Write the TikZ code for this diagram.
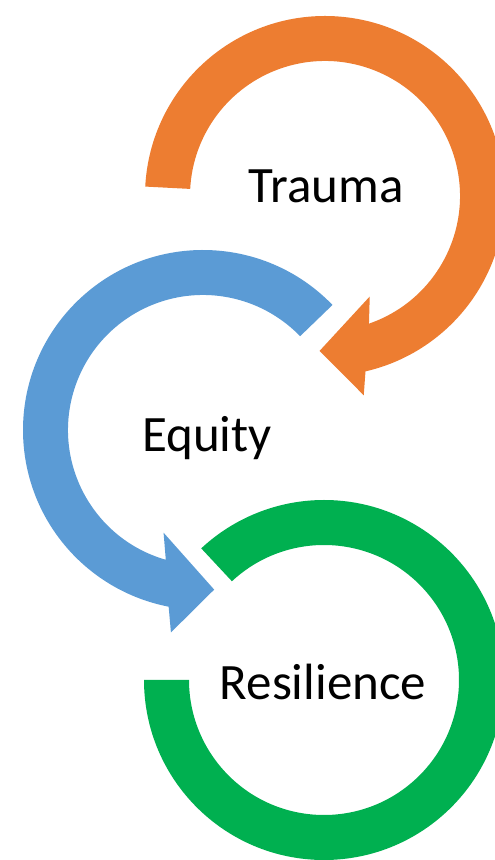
\documentclass[tikz,border=0pt]{standalone}
\usepackage{fontspec}
\setmainfont{Carlito}
\definecolor{traumaorange}{HTML}{ED7D31}
\definecolor{equityblue}{HTML}{5B9BD5}
\definecolor{resgreen}{HTML}{00B050}
\begin{document}
\begin{tikzpicture}[x=1pt,y=1pt,
  word/.style={anchor=base,inner sep=0pt,font=\fontsize{51}{60}\selectfont}]
\useasboundingbox (0,0) rectangle (495,860);
\clip (0,0) rectangle (495,860);
% orange ring, clockwise, head at the bottom
\begin{scope}[shift={(325,664)}]
\fill[traumaorange] (177:180) arc[start angle=177,end angle=-77,radius=180]
  -- (-79:203) -- (-92:155) -- (-66:110) -- (-71:135)
  arc[start angle=-71,end angle=177,radius=135] -- cycle;
\end{scope}
% blue ring, counterclockwise
\begin{scope}[shift={(203,430)}]
\fill[equityblue] (44:180) arc[start angle=44,end angle=259,radius=180]
  -- (261:205) -- (274:160) -- (249:110) -- (254:135)
  arc[start angle=254,end angle=44,radius=135] -- cycle;
\end{scope}
% green ring, no head
\begin{scope}[shift={(324,180)}]
\fill[resgreen] (180:180) arc[start angle=180,end angle=493,radius=180]
  -- (493:135) arc[start angle=493,end angle=180,radius=135] -- cycle;
\end{scope}
\node[word] (trauma) at (326,657) {Trauma};
\node[word] (equity) at (207,408) {Equity};
\node[word] (resilience) at (323,160) {Resilience};
\end{tikzpicture}
\end{document}
